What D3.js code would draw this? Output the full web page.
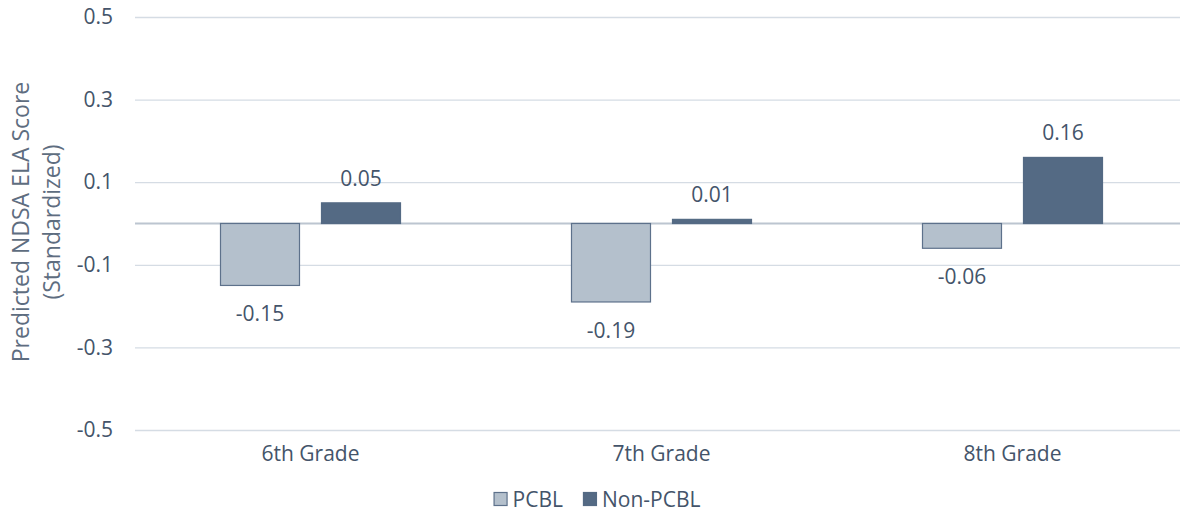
<!DOCTYPE html>
<html><head><meta charset="utf-8">
<script src="https://cdn.jsdelivr.net/npm/d3@7"></script>
<style>
html,body{margin:0;padding:0;background:#fff;}
svg{display:block;font-family:"Open Sans",sans-serif;}
</style></head>
<body><svg id="c" width="1180" height="518"></svg>
<script>
const categories = ["6th Grade", "7th Grade", "8th Grade"];
const seriesNames = ["PCBL", "Non-PCBL"];
const pcbl = [-0.15, -0.19, -0.06];
const nonPcbl = [0.05, 0.01, 0.16];
const yTicks = [-0.5, -0.3, -0.1, 0.1, 0.3, 0.5];
const yTitle = ["Predicted NDSA ELA Score", "(Standardized)"];

const fills = ["#B4C0CC", "#546A84"];
const strokes = ["#5D718B", "#546A84"];
const textColor = "#44546A";
const fs = "21px";

const fmt1 = d => d3.format(".1f")(d).replace("\u2212", "-");
const fmt2 = d => d3.format(".2f")(d).replace("\u2212", "-");

const svg = d3.select("#c");
const x0 = d3.scaleBand().domain(categories).range([135, 1188]).paddingInner(0).paddingOuter(0);
const y = d3.scaleLinear().domain([-0.5, 0.5]).range([430, 17]);
const x1 = d3.scaleBand().domain(seriesNames).range([0, 181]).paddingInner(21/101).paddingOuter(0);
const groupOff = (x0.bandwidth() - 181) / 2;

// gridlines
const yAxis = d3.axisLeft(y).tickValues(yTicks).tickSize(-(1188 - 135)).tickFormat(fmt1);
const ga = svg.append("g").attr("transform", "translate(135,0)").call(yAxis);
ga.select(".domain").remove();
ga.selectAll(".tick line").attr("stroke", "#D5DCE4").attr("stroke-width", 1.3);
ga.selectAll(".tick text").attr("fill", textColor).style("font-size", fs).style("font-family", "'Open Sans',sans-serif").attr("x", -22);

// zero line
svg.append("line").attr("x1", 135).attr("x2", 1188).attr("y1", y(0)).attr("y2", y(0))
  .attr("stroke", "#BCC5D0").attr("stroke-width", 2);

const data = [];
categories.forEach((c, i) => {
  data.push({cat: c, s: "PCBL", v: pcbl[i], k: 0});
  data.push({cat: c, s: "Non-PCBL", v: nonPcbl[i], k: 1});
});

const bars = svg.append("g");
bars.selectAll("rect").data(data).join("rect")
  .attr("x", d => x0(d.cat) + groupOff + x1(d.s) + 0.5)
  .attr("width", x1.bandwidth() - 1)
  .attr("y", d => Math.min(y(d.v), y(0)))
  .attr("height", d => Math.abs(y(d.v) - y(0)))
  .attr("fill", d => fills[d.k])
  .attr("stroke", d => strokes[d.k])
  .attr("stroke-width", 1.2);

svg.append("g").selectAll("text").data(data).join("text")
  .attr("x", d => x0(d.cat) + groupOff + x1(d.s) + x1.bandwidth() / 2)
  .attr("y", d => d.v >= 0 ? y(d.v) - 17 : y(d.v) + 36)
  .attr("text-anchor", "middle").attr("fill", textColor).style("font-size", fs)
  .text(d => fmt2(d.v));

// category labels
const xAxis = d3.axisBottom(x0).tickSize(0).tickPadding(0);
const gx = svg.append("g").attr("transform", "translate(0,430)").call(xAxis);
gx.select(".domain").remove();
gx.selectAll(".tick text").attr("fill", textColor).style("font-size", fs)
  .style("font-family", "'Open Sans',sans-serif").attr("dy", null).attr("y", 31);

// y title
const t = svg.append("text").attr("transform", "translate(0,222) rotate(-90)")
  .attr("text-anchor", "middle").attr("fill", "#5E6D80").style("font-size", "23px");
t.append("tspan").attr("x", 0).attr("y", 29).text(yTitle[0]);
t.append("tspan").attr("x", 0).attr("y", 60).text(yTitle[1]);

// legend
const lg = svg.append("g");
let items = [];
seriesNames.forEach((s, i) => {
  const g = lg.append("g");
  g.append("rect").attr("x", 0.5).attr("y", -14.5).attr("width", 13).attr("height", 13)
    .attr("fill", fills[i]).attr("stroke", strokes[i]).attr("stroke-width", 1.2);
  const tx = g.append("text").attr("x", 19).attr("y", 0).attr("fill", textColor)
    .style("font-size", fs).text(s);
  const w = 19 + tx.node().getComputedTextLength();
  items.push({g, w});
});
const gap = 20;
const total = items.reduce((a, b) => a + b.w, 0) + gap * (items.length - 1);
let px = 597 - total / 2;
items.forEach(it => { it.g.attr("transform", `translate(${px},507)`); px += it.w + gap; });
</script></body></html>
